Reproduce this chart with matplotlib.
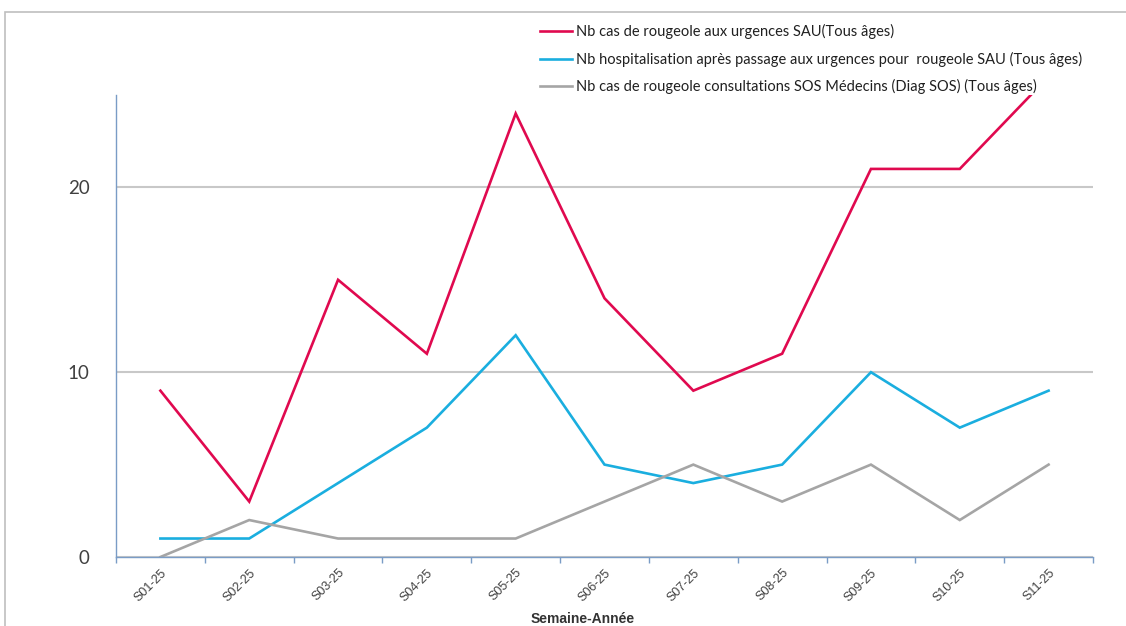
import matplotlib.pyplot as plt
from matplotlib.patches import Rectangle
import numpy as np

plt.rcParams["font.family"] = ["Lato", "DejaVu Sans"]

semaines = ["S01-25", "S02-25", "S03-25", "S04-25", "S05-25", "S06-25",
            "S07-25", "S08-25", "S09-25", "S10-25", "S11-25"]
sau = [9, 3, 15, 11, 24, 14, 9, 11, 21, 21, 26]
hospit = [1, 1, 4, 7, 12, 5, 4, 5, 10, 7, 9]
sos = [0, 2, 1, 1, 1, 3, 5, 3, 5, 2, 5]

labels = [
    "Nb cas de rougeole aux urgences SAU(Tous âges)",
    "Nb hospitalisation après passage aux urgences pour  rougeole SAU (Tous âges)",
    "Nb cas de rougeole consultations SOS Médecins (Diag SOS) (Tous âges)",
]
colors = ["#e0094f", "#1aaedf", "#a5a5a5"]
axis_blue = "#7a9cc6"

fig = plt.figure(figsize=(11.26, 6.26), dpi=100)
fig.patches.append(Rectangle((5 / 1126, -0.1), 1.2, 1.1 - 12 / 626,
                             transform=fig.transFigure, fill=False,
                             edgecolor="#bfbfbf", linewidth=1.2))

ax = fig.add_axes([116 / 1126, 1 - 557 / 626, 977 / 1126, 462 / 626])
x = np.arange(len(semaines))
lines = []
for vals, c in zip([sau, hospit, sos], colors):
    ln, = ax.plot(x, vals, color=c, linewidth=1.9, solid_joinstyle="miter")
    lines.append(ln)

ax.set_xlim(-0.5, len(semaines) - 0.5)
ax.set_ylim(0, 25)
ax.set_yticks([0, 10, 20])
ax.yaxis.grid(True, color="#c8c8c8", linewidth=1.5)
ax.set_axisbelow(True)
ax.tick_params(axis="y", length=0, pad=19, labelsize=13.5, labelcolor="#404040")

ax.set_xticks(np.arange(-0.5, len(semaines)), minor=False)
ax.set_xticklabels([])
ax.set_xticks(x, minor=True)
ax.set_xticklabels(semaines, minor=True, rotation=45, ha="right",
                   rotation_mode="anchor", fontsize=9,
                   family=["Liberation Sans Narrow", "Liberation Sans"],
                   color="#404040")
ax.tick_params(axis="x", which="major", length=4, color=axis_blue, width=1)
ax.tick_params(axis="x", which="minor", length=0, pad=7)

for s in ["top", "right"]:
    ax.spines[s].set_visible(False)
for s in ["left", "bottom"]:
    ax.spines[s].set_color(axis_blue)
    ax.spines[s].set_linewidth(1)

ax.set_xlabel("Semaine-Année", fontsize=10, fontweight="bold",
              family="Liberation Sans", color="#333333", labelpad=6)
ax.xaxis.set_label_coords((583 - 116) / 977, -(612 - 557) / 462)

fig.legend(lines, labels, loc="upper left", bbox_to_anchor=(527 / 1126, 1 - 11 / 626),
           frameon=False, fontsize=10.5, handlelength=2.2, handletextpad=0.25,
           labelspacing=0.85, labelcolor="#202020")

fig.savefig("out.png", dpi=100)
